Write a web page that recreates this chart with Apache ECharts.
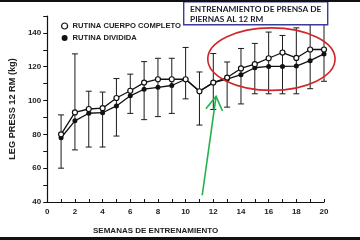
<!DOCTYPE html>
<html>
<head>
<meta charset="utf-8">
<script src="https://cdn.jsdelivr.net/npm/echarts@6.0.0/dist/echarts.min.js"></script>
<style>
    html, body { margin: 0; padding: 0; background: #fff; }
    #chart { width: 360px; height: 240px; }
</style>
</head>
<body>
<div id="chart"></div>
<script>
const weeks = [1, 2, 3, 4, 5, 6, 7, 8, 9, 10, 11, 12, 13, 14, 15, 16, 17, 18, 19, 20];
const cuerpoCompleto = [80, 93, 95, 95.5, 101.5, 105.8, 110.6, 112.6, 112.6, 112.6, 105.5, 110.6, 113.6, 119, 121.5, 125, 128.4, 125.2, 130.2, 130.2];
const rutinaDividida = [78, 88, 92.5, 92.8, 96.8, 102.8, 106.7, 107.8, 108.9, 112.6, 105.5, 110.6, 112.6, 115.3, 119.4, 120.2, 120.2, 120.4, 123.6, 127.6];
const errorHigh = [91.5, 127.6, 105.5, 105, 113, 115.6, 123, 125, 125, 131.4, 116.9, 127.8, 122.8, 130.8, 133.8, 140.5, 138.5, 143, 145, 145];
const errorLow = [60, 70.8, 72.5, 72.5, 79, 92.4, 88.7, 90.5, 92.4, 101, 85.5, 94.7, 96.1, 98, 104, 104, 104, 104, 107, 111.4];
const yLabels = [40, 60, 80, 100, 120, 140];
const xLabels = [0, 2, 4, 6, 8, 10, 12, 14, 16, 18, 20];

const chartElmt = document.getElementById("chart");
const chart = echarts.init(chartElmt, null, { renderer: "canvas", width: 360, height: 240 });

const labelFont = { fontFamily: "Liberation Sans", fontWeight: "bold", fontSize: 8, color: "#222" };

function renderErrorBar(params, api) {
    let x = api.value(0);
    let top = api.coord([x, api.value(2)]);
    let bottom = api.coord([x, api.value(1)]);
    let halfCap = 3;
    let style = { stroke: "#1a1a1a", lineWidth: 1 };
    return {
        type: "group",
        children: [
            { type: "line", shape: { x1: top[0], y1: top[1], x2: bottom[0], y2: bottom[1] }, style: style },
            { type: "line", shape: { x1: top[0] - halfCap, y1: top[1], x2: top[0] + halfCap, y2: top[1] }, style: style },
            { type: "line", shape: { x1: bottom[0] - halfCap, y1: bottom[1], x2: bottom[0] + halfCap, y2: bottom[1] }, style: style },
        ],
    };
}

const options = {
    animation: false,
    backgroundColor: "#fff",
    grid: { left: 46, right: 36, top: 16, bottom: 37, containLabel: false },
    legend: {
        orient: "vertical",
        left: 56,
        top: 17,
        itemWidth: 6,
        itemHeight: 6,
        itemGap: 4,
        textStyle: { fontFamily: "Liberation Sans", fontWeight: "bold", fontSize: 7.6, color: "#222" },
        data: [
            { name: "RUTINA CUERPO COMPLETO", icon: "circle", itemStyle: { color: "#fff", borderColor: "#111", borderWidth: 1.2 } },
            { name: "RUTINA DIVIDIDA", icon: "circle", itemStyle: { color: "#111" } },
        ],
    },
    xAxis: {
        type: "value",
        min: 0,
        max: 20,
        interval: 1,
        name: "SEMANAS DE ENTRENAMIENTO",
        nameLocation: "middle",
        nameGap: 25,
        nameTextStyle: { fontFamily: "Liberation Sans", fontWeight: "bold", fontSize: 8, color: "#222", padding: [0, 60, 0, 0] },
        axisLine: { lineStyle: { color: "#111", width: 1.2 } },
        axisTick: { inside: true, length: 3, lineStyle: { color: "#111" } },
        axisLabel: Object.assign({
            margin: 6,
            formatter: (v) => xLabels.includes(v) ? String(v) : "",
        }, labelFont),
        splitLine: { show: false },
    },
    yAxis: {
        type: "value",
        min: 40,
        max: 150,
        interval: 10,
        name: "LEG PRESS 12 RM (kg)",
        nameLocation: "middle",
        nameGap: 18,
        nameTextStyle: { fontFamily: "Liberation Sans", fontWeight: "bold", fontSize: 9.2, color: "#222" },
        axisLine: { show: true, lineStyle: { color: "#111", width: 1.2 } },
        axisTick: { show: true, length: 4, lineStyle: { color: "#111" } },
        axisLabel: Object.assign({
            margin: 6,
            formatter: (v) => yLabels.includes(v) ? String(v) : "",
        }, labelFont),
        splitLine: { show: false },
    },
    series: [
        {
            name: "error",
            type: "custom",
            renderItem: renderErrorBar,
            data: weeks.map((w, i) => [w, errorLow[i], errorHigh[i]]),
            z: 1,
            silent: true,
        },
        {
            name: "RUTINA DIVIDIDA",
            type: "line",
            data: weeks.map((w, i) => [w, rutinaDividida[i]]),
            symbol: "circle",
            symbolSize: 5,
            lineStyle: { color: "#111", width: 1.3 },
            itemStyle: { color: "#111" },
            z: 3,
        },
        {
            name: "RUTINA CUERPO COMPLETO",
            type: "line",
            data: weeks.map((w, i) => [w, cuerpoCompleto[i]]),
            symbol: "circle",
            symbolSize: 5,
            lineStyle: { color: "#111", width: 1.3 },
            itemStyle: { color: "#fff", borderColor: "#111", borderWidth: 1.2 },
            z: 4,
        },
    ],
};

chart.setOption(options);

// annotations placed in data space: ellipse round weeks 12-20, arrow up to week 12
const ellipseCenter = chart.convertToPixel({ gridIndex: 0 }, [16.2, 124.5]);
const ellipseEdge = chart.convertToPixel({ gridIndex: 0 }, [20.8, 106]);
const arrowFrom = chart.convertToPixel({ gridIndex: 0 }, [11.2, 44]);
const arrowTo = chart.convertToPixel({ gridIndex: 0 }, [12.2, 102.5]);

const dx = arrowTo[0] - arrowFrom[0];
const dy = arrowTo[1] - arrowFrom[1];
const len = Math.sqrt(dx * dx + dy * dy);
const ux = dx / len, uy = dy / len;
const headLen = 16, headSpread = 0.55;
function headPoint(sign) {
    let cos = Math.cos(sign * headSpread), sin = Math.sin(sign * headSpread);
    let bx = -ux * cos + uy * sin;
    let by = -ux * sin - uy * cos;
    return [arrowTo[0] + bx * headLen, arrowTo[1] + by * headLen];
}
const headLeft = headPoint(1);
const headRight = headPoint(-1);

chart.setOption({
    graphic: [
        { type: "rect", left: 0, top: 0, shape: { width: 360, height: 2 }, style: { fill: "#111" }, z: 100 },
        { type: "rect", left: 0, top: 237, shape: { width: 360, height: 3 }, style: { fill: "#111" }, z: 100 },
        {
            type: "ellipse",
            shape: { cx: ellipseCenter[0], cy: ellipseCenter[1], rx: ellipseEdge[0] - ellipseCenter[0], ry: ellipseEdge[1] - ellipseCenter[1] },
            style: { fill: "none", stroke: "#d0262b", lineWidth: 1.6 },
            z: 50,
        },
        {
            type: "polyline",
            shape: { points: [arrowFrom, arrowTo] },
            style: { stroke: "#22b14c", lineWidth: 1.6, fill: "none" },
            z: 50,
        },
        {
            type: "polyline",
            shape: { points: [headLeft, arrowTo, headRight] },
            style: { stroke: "#22b14c", lineWidth: 1.6, fill: "none" },
            z: 50,
        },
        {
            type: "rect",
            left: 183,
            top: 1,
            shape: { width: 144, height: 23 },
            style: { fill: "#fff", stroke: "#3b3b9a", lineWidth: 1.4 },
            z: 60,
        },
        {
            type: "text",
            left: 190,
            top: 4,
            style: {
                text: "ENTRENAMIENTO DE PRENSA DE\nPIERNAS AL 12 RM",
                fontFamily: "Lato",
                fontWeight: "bold",
                fontSize: 8.3,
                lineHeight: 10.5,
                fill: "#1a1a2a",
            },
            z: 61,
        },
    ],
});
</script>
</body>
</html>
